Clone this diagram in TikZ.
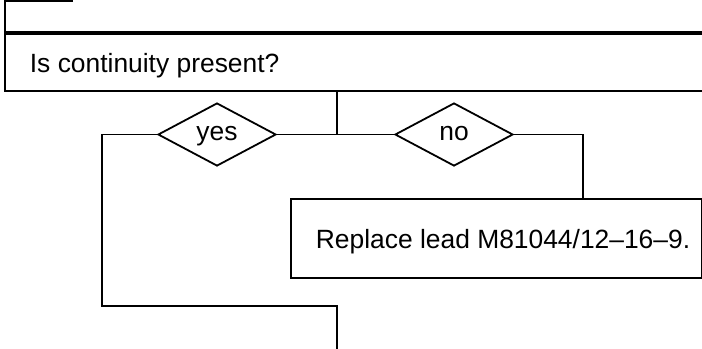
\documentclass[tikz,border=0pt]{standalone}
\usepackage{fontspec}
\setmainfont{Liberation Sans}
\usetikzlibrary{shapes.geometric,positioning}
\definecolor{Ink}{HTML}{000000}
\tikzset{
  stepbox/.style={draw=Ink,rectangle,inner sep=0pt},
  decision/.style={draw=Ink,diamond,aspect=2,inner sep=0pt,minimum width=118bp,minimum height=63bp,text=Ink,text height=11bp,text depth=0pt},
  steptext/.style={anchor=base west,inner sep=0pt,text=Ink},
  flow/.style={draw=Ink}
}
\begin{document}
\begin{tikzpicture}[x=1bp,y=-1bp,line width=1.8bp,font=\fontsize{26.4bp}{32bp}\selectfont]
\useasboundingbox (0,0) rectangle (702,348);
\clip (0,0) rectangle (702,348);
\node[stepbox,anchor=south west,minimum width=716bp,minimum height=60bp] (stage) at (4,33) {};
\node[stepbox,anchor=south west,minimum width=67bp,minimum height=30bp] (tag) at (4,2) {};
\node[stepbox,anchor=north west,minimum width=716bp,minimum height=57bp] (check) at (4,33) {};
\node[steptext] (checktext) at ([xshift=25bp,yshift=-10bp]check.west) {Is continuity present?};
\node[decision] (yes) at (217,134.5) {yes};
\node[decision] (no) at (454,134.5) {no};
\node[stepbox,anchor=north west,minimum width=411bp,minimum height=79bp] (fix) at (290,198) {};
\node[steptext] (fixtext) at ([xshift=25bp,yshift=-10.5bp]fix.west) {Replace lead M81044/12--16--9.};
\coordinate (split) at (337,134.5);
\coordinate (bend) at (102,306);
\coordinate (out) at (337,360);
\coordinate (drop) at (583,134.5);
\draw[flow] (check.south -| split) -- (split);
\draw[flow] (yes.east) -- (no.west);
\draw[flow] (yes.west) -| (bend) -| (out);
\draw[flow] (no.east) -- (drop) -- (drop |- fix.north);
\end{tikzpicture}
\end{document}
